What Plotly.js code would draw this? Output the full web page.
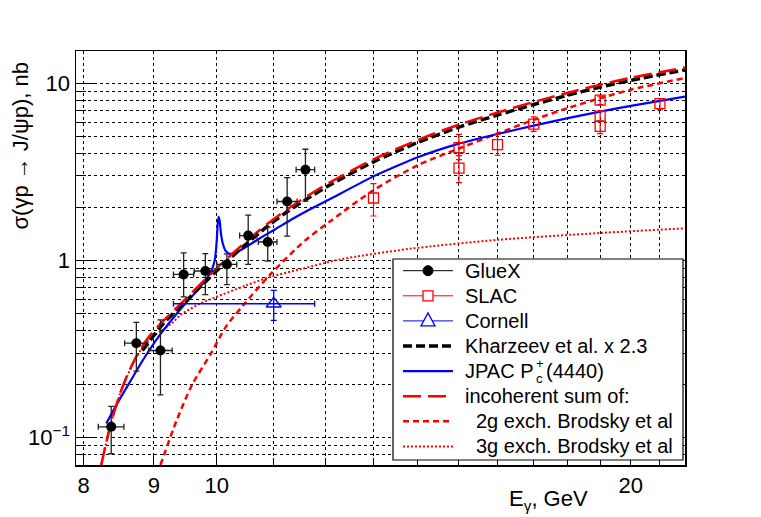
<!DOCTYPE html>
<html>
<head>
<meta charset="utf-8">
<script src="https://cdn.plot.ly/plotly-3.0.1.min.js"></script>
<style>
  html, body { margin: 0; padding: 0; background: #fff; }
  #chart { width: 761px; height: 517px; }
</style>
</head>
<body>
<div id="chart"></div>
<script>
// GlueX points (E in GeV, sigma in nb)
const gluexE = [8.38, 8.74, 9.10, 9.46, 9.81, 10.17, 10.54, 10.89, 11.25, 11.60];
const gluexSigma = [0.115, 0.341, 0.310, 0.833, 0.871, 0.949, 1.38, 1.27, 2.15, 3.25];
const gluexErrUp = [0.035, 0.106, 0.152, 0.27, 0.22, 0.14, 0.42, 0.27, 0.78, 0.99];
const gluexErrDown = [0.034, 0.104, 0.136, 0.21, 0.23, 0.22, 0.43, 0.28, 0.78, 1.09];
const gluexErrE = [0.18, 0.17, 0.18, 0.16, 0.18, 0.17, 0.15, 0.17, 0.19, 0.18];

// SLAC points
const slacE = [13, 15, 15, 16, 17, 19, 19, 19, 21];
const slacSigma = [2.25, 4.33, 3.32, 4.50, 5.87, 8.02, 6.51, 5.71, 7.68];
const slacErrUp = [0.46, 0.81, 0.58, 0.64, 0.58, 0.43, 0.44, 0.40, 0.52];
const slacErrDown = [0.47, 0.63, 0.57, 0.58, 0.52, 0.44, 0.40, 0.51, 0.58];

// Cornell point
const cornellE = [11.0];
const cornellSigma = [0.569];
const cornellErrUp = [0.108];
const cornellErrDown = [0.111];
const cornellErrELeft = [1.70];
const cornellErrERight = [0.78];

// Kharzeev et al. x 2.3
const kharE = [8.83, 9.15, 9.46, 9.78, 10.12, 10.5, 10.9, 11.25, 11.7, 12.1, 13, 14, 15, 16, 17, 18, 19, 20, 21.9];
const kharSigma = [0.31, 0.443, 0.571, 0.74, 0.955, 1.234, 1.57, 1.88, 2.29, 2.68, 3.6, 4.63, 5.65, 6.61, 7.58, 8.56, 9.5, 10.39, 11.88];

// JPAC Pc+(4440)
const jpacE = [8.31, 8.45, 8.6, 8.84, 9.08, 9.35, 9.46, 9.65, 9.82, 9.92, 9.97, 10.0, 10.015, 10.03, 10.05, 10.07, 10.1, 10.15, 10.22, 10.35, 10.5, 10.74, 11.03, 11.3, 11.7, 12.1, 13, 14, 15, 16, 17, 18, 19, 20, 21.9];
const jpacSigma = [0.12, 0.152, 0.192, 0.275, 0.375, 0.5, 0.557, 0.66, 0.78, 0.89, 1.02, 1.3, 1.6, 1.76, 1.66, 1.42, 1.25, 1.13, 1.09, 1.12, 1.19, 1.33, 1.50, 1.68, 1.95, 2.23, 2.98, 3.82, 4.56, 5.17, 5.76, 6.35, 6.91, 7.45, 8.4];

// incoherent sum of 2g + 3g
const sumE = [8.24, 8.30, 8.38, 8.5, 8.6, 8.74, 8.9, 9.15, 9.46, 9.78, 10.12, 10.5, 10.9, 11.25, 11.7, 12.1, 13, 14, 15, 16, 17, 18, 19, 20, 21.9];
const sumSigma = [0.07, 0.09, 0.122, 0.175, 0.221, 0.287, 0.36, 0.458, 0.59, 0.764, 0.986, 1.275, 1.62, 1.94, 2.37, 2.77, 3.72, 4.78, 5.84, 6.83, 7.83, 8.84, 9.81, 10.73, 12.27];

// 2g exchange, Brodsky et al
const twoGE = [9.10, 9.35, 9.6, 9.9, 10.15, 10.45, 10.95, 11.6, 12.1, 13, 14, 15, 16, 17, 18, 19, 20, 21.9];
const twoGSigma = [0.07, 0.125, 0.2, 0.297, 0.42, 0.557, 0.841, 1.3, 1.67, 2.49, 3.44, 4.28, 5.2, 6.22, 7.24, 8.23, 9.19, 10.7];

// 3g exchange, Brodsky et al
const threeGE = [8.24, 8.30, 8.38, 8.5, 8.6, 8.74, 8.9, 9.1, 9.3, 9.41, 9.73, 9.95, 10.5, 10.94, 11.5, 12.3, 13.8, 16, 19, 21.9];
const threeGSigma = [0.07, 0.09, 0.122, 0.174, 0.219, 0.283, 0.353, 0.397, 0.449, 0.492, 0.571, 0.614, 0.722, 0.807, 0.892, 1.013, 1.161, 1.306, 1.428, 1.516];

// axis ticks
const xLabelVals = [8, 9, 10, 20];
const xLabelText = ["8", "9", "10", "20"];
const xMinorVals = [11, 12, 13, 14, 15, 16, 17, 18, 19, 21];
const yLabelVals = [0.1, 1, 10];
const yLabelText = ["10<sup>\u22121</sup>", "1", "10"];
const yMinorVals = [0.07, 0.08, 0.09, 0.2, 0.3, 0.4, 0.5, 0.6, 0.7, 0.8, 0.9, 2, 3, 4, 5, 6, 7, 8, 9];

const FONT = "Liberation Sans, Arial, Helvetica, sans-serif";
const RED = "#ff0000";
const BLUE = "#0000ff";
const BLACK = "#000000";

// curve styles, shared by plot and legend
const styleKhar = { color: BLACK, width: 3.5, dash: "9px,4px" };
const styleJpac = { color: BLUE, width: 2.2, dash: "solid" };
const styleSum = { color: RED, width: 2.5, dash: "18px,7px" };
const style2g = { color: RED, width: 2.5, dash: "6px,4px" };
const style3g = { color: RED, width: 2, dash: "2px,2px" };

function curve(x, y, style, smoothing) {
  return {
    type: "scatter", mode: "lines", x, y, showlegend: false,
    line: { ...style, shape: "spline", smoothing },
  };
}

const traces = [
  curve(threeGE, threeGSigma, style3g, 0.8),
  curve(twoGE, twoGSigma, style2g, 0.8),
  curve(jpacE, jpacSigma, styleJpac, 0.5),
  curve(kharE, kharSigma, styleKhar, 0.8),
  curve(sumE, sumSigma, styleSum, 0.8),
  {
    type: "scatter", mode: "markers", x: cornellE, y: cornellSigma, showlegend: false,
    marker: { symbol: "triangle-up-open", size: 13, color: BLUE, line: { width: 1.3, color: BLUE } },
    error_y: { type: "data", symmetric: false, array: cornellErrUp, arrayminus: cornellErrDown, color: BLUE, thickness: 1.3, width: 3 },
    error_x: { type: "data", symmetric: false, array: cornellErrERight, arrayminus: cornellErrELeft, color: BLUE, thickness: 1.3, width: 3 },
  },
  {
    type: "scatter", mode: "markers", x: slacE, y: slacSigma, showlegend: false,
    marker: { symbol: "square-open", size: 10, color: RED, line: { width: 1.3, color: RED } },
    error_y: { type: "data", symmetric: false, array: slacErrUp, arrayminus: slacErrDown, color: RED, thickness: 1.2, width: 3 },
  },
  {
    type: "scatter", mode: "markers", x: gluexE, y: gluexSigma, showlegend: false,
    marker: { symbol: "circle", size: 10, color: BLACK },
    error_y: { type: "data", symmetric: false, array: gluexErrUp, arrayminus: gluexErrDown, color: "#222", thickness: 1.3, width: 3 },
    error_x: { type: "data", array: gluexErrE, color: "#222", thickness: 1.3, width: 3 },
  },
];

// ROOT-like legend box, drawn by hand (pixel layout -> paper coords)
const PL = 76, PR = 685, PT = 51, PB = 465;
const px = (v) => (v - PL) / (PR - PL);
const py = (v) => (PB - v) / (PB - PT);

const legendRows = [
  { text: "GlueX", line: { color: BLACK, width: 1 }, marker: "circle" },
  { text: "SLAC", line: { color: RED, width: 1 }, marker: "square" },
  { text: "Cornell", line: { color: BLUE, width: 1 }, marker: "triangle" },
  { text: "Kharzeev et al. x 2.3", line: styleKhar },
  { text: "JPAC P", line: styleJpac, jpac: true },
  { text: "incoherent sum of:", line: styleSum },
  { text: "2g exch. Brodsky et al", line: style2g, indent: 11 },
  { text: "3g exch. Brodsky et al", line: style3g, indent: 11 },
];

const shapes = [{
  type: "rect", xref: "paper", yref: "paper", layer: "above",
  x0: px(393), x1: px(683), y0: py(460), y1: py(259),
  fillcolor: "#fff", line: { color: BLACK, width: 1.2 },
}];
const annotations = [];
const txtFont = { family: FONT, size: 20, color: BLACK };

legendRows.forEach((row, i) => {
  const yc = 270.7 + i * 25.1;
  shapes.push({
    type: "line", xref: "paper", yref: "paper", layer: "above",
    x0: px(403), x1: px(453), y0: py(yc), y1: py(yc), line: row.line,
  });
  const mx = 428;
  if (row.marker === "circle") {
    shapes.push({ type: "circle", xref: "paper", yref: "paper", layer: "above",
      x0: px(mx - 5), x1: px(mx + 5), y0: py(yc + 5), y1: py(yc - 5),
      fillcolor: BLACK, line: { color: BLACK, width: 1 } });
  } else if (row.marker === "square") {
    shapes.push({ type: "rect", xref: "paper", yref: "paper", layer: "above",
      x0: px(mx - 5), x1: px(mx + 5), y0: py(yc + 5), y1: py(yc - 5),
      fillcolor: "#fff", line: { color: RED, width: 1.3 } });
  } else if (row.marker === "triangle") {
    shapes.push({ type: "path", xref: "paper", yref: "paper", layer: "above",
      path: `M ${px(mx)} ${py(yc - 8)} L ${px(mx - 7)} ${py(yc + 5)} L ${px(mx + 7)} ${py(yc + 5)} Z`,
      fillcolor: "#fff", line: { color: BLUE, width: 1.3 } });
  }
  const x0 = 464 + (row.indent || 0);
  annotations.push({ xref: "paper", yref: "paper", x: px(x0), y: py(yc), xanchor: "left", yanchor: "middle",
    text: row.text, showarrow: false, font: txtFont, borderpad: 0 });
  if (row.jpac) {
    const small = { family: FONT, size: 13, color: BLACK };
    annotations.push({ xref: "paper", yref: "paper", x: px(535), y: py(yc - 8), xanchor: "left", yanchor: "middle",
      text: "+", showarrow: false, font: small, borderpad: 0 });
    annotations.push({ xref: "paper", yref: "paper", x: px(535), y: py(yc + 7), xanchor: "left", yanchor: "middle",
      text: "c", showarrow: false, font: small, borderpad: 0 });
    annotations.push({ xref: "paper", yref: "paper", x: px(545), y: py(yc), xanchor: "left", yanchor: "middle",
      text: "(4440)", showarrow: false, font: txtFont, borderpad: 0 });
  }
});

annotations.push(
  { xref: "paper", yref: "paper", x: px(590), y: py(500), xanchor: "right", yanchor: "middle",
    text: "E<sub>\u03b3</sub>, GeV", showarrow: false, font: { family: FONT, size: 22, color: BLACK } },
  { xref: "paper", yref: "paper", x: px(20), y: py(146.5), xanchor: "center", yanchor: "middle", textangle: -90,
    text: "\u03c3(\u03b3p \u2192 J/\u03c8p), nb", showarrow: false, font: { family: FONT, size: 22, color: BLACK } }
);

const axisCommon = {
  type: "log",
  showline: true, linecolor: BLACK, linewidth: 1.5, mirror: true,
  ticks: "inside", ticklen: 12, tickcolor: BLACK, tickwidth: 1,
  showgrid: true, gridcolor: BLACK, gridwidth: 1, griddash: "dot",
  zeroline: false,
  tickfont: { family: FONT, size: 22, color: BLACK },
};

const layout = {
  width: 761, height: 517,
  paper_bgcolor: "#fff", plot_bgcolor: "#fff",
  margin: { l: PL, r: 761 - PR, t: PT, b: 517 - PB },
  font: { family: FONT, color: BLACK },
  showlegend: false,
  xaxis: {
    ...axisCommon,
    range: [Math.log10(7.9), Math.log10(21.9)],
    tickmode: "array", tickvals: xLabelVals, ticktext: xLabelText,
    minor: { tickmode: "array", tickvals: xMinorVals, ticks: "inside", ticklen: 7, tickcolor: BLACK,
      showgrid: true, gridcolor: BLACK, gridwidth: 1, griddash: "dot" },
  },
  yaxis: {
    ...axisCommon,
    range: [Math.log10(0.07), Math.log10(15.2)],
    tickmode: "array", tickvals: yLabelVals, ticktext: yLabelText,
    ticklen: 20,
    minor: { tickmode: "array", tickvals: yMinorVals, ticks: "inside", ticklen: 10, tickcolor: BLACK,
      showgrid: true, gridcolor: BLACK, gridwidth: 1, griddash: "dot" },
  },
  shapes,
  annotations,
};

Plotly.newPlot("chart", traces, layout, { displayModeBar: false, staticPlot: true });
</script>
</body>
</html>
